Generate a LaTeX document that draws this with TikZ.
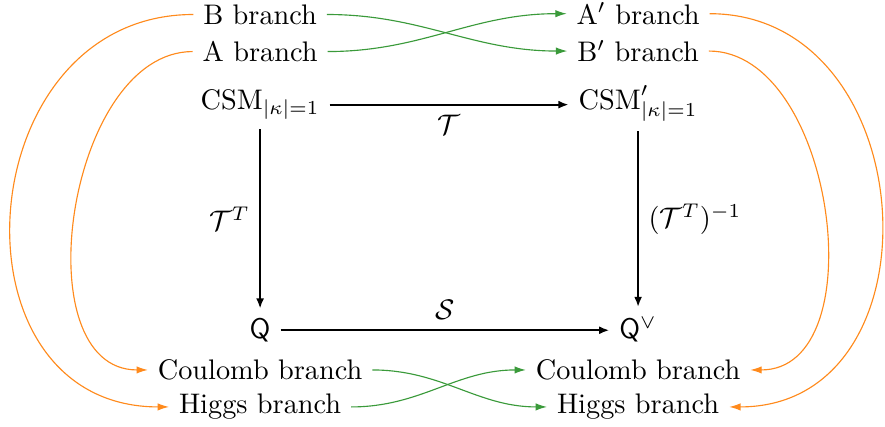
\documentclass[tikz,border=0pt]{standalone}
\usepackage{amsmath}
\usepackage{tikz}
\usetikzlibrary{arrows.meta, positioning}
\definecolor{mapgreen}{HTML}{3A9A3A}
\definecolor{maporange}{HTML}{FF8A1C}

\begin{document}
\begin{tikzpicture}[
    obj/.style={anchor=base},
    map/.style={line width=0.7pt, -{Latex[length=3.6pt,width=2.8pt]}},
    greenmap/.style={mapgreen, -{Latex[length=4pt,width=2.6pt]}},
    orangemap/.style={maporange, -{Latex[length=4pt,width=2.6pt]}}]
    \useasboundingbox (0,0) rectangle (10.99,5.30);

    % levy sloupec
    \node[obj] (bL) at (3.23, 5.0) {B branch};
    \node[obj] (aL) at (3.23, 4.536) {A branch};
    \node[obj] (csmL) at (3.23, 3.943) {$\mathrm{CSM}_{|\kappa|=1}$};
    \node[obj] (qL) at (3.23, 1.099) {$\mathsf{Q}$};
    \node[obj] (coulL) at (3.23, 0.586) {Coulomb branch};
    \node[obj] (higgsL) at (3.23, 0.161) {Higgs branch};

    % pravy sloupec
    \node[obj] (aR) at (7.924, 5.0) {A$'$ branch};
    \node[obj] (bR) at (7.924, 4.536) {B$'$ branch};
    \node[obj] (csmR) at (7.924, 3.943) {$\mathrm{CSM}'_{|\kappa|=1}$};
    \node[obj] (qR) at (7.924, 1.099) {$\mathsf{Q}^\vee$};
    \node[obj] (coulR) at (7.924, 0.586) {Coulomb branch};
    \node[obj] (higgsR) at (7.924, 0.161) {Higgs branch};

    % ctverec
    \draw[map] (csmL.east) -- (csmL.east -| csmR.west) node[midway, below] {$\mathcal{T}$};
    \draw[map] (qL.east) -- (qL.east -| qR.west) node[midway, above] {$\mathcal{S}$};
    \draw[map] (csmL) -- (qL) node[midway, left] {$\mathcal{T}^T$};
    \draw[map] (csmR) -- (qR) node[midway, right] {$(\mathcal{T}^T)^{-1}$};

    % vetve
    \draw[greenmap] (bL.east) to[out=0, in=180] (bR.west);
    \draw[greenmap] (aL.east) to[out=0, in=180] (aR.west);
    \draw[greenmap] (coulL.east) to[out=0, in=180] (higgsR.west);
    \draw[greenmap] (higgsL.east) to[out=0, in=180] (coulR.west);

    \draw[orangemap] (bL.west) to[out=180, in=180, looseness=1.47] (higgsL.west);
    \draw[orangemap] (aL.west) to[out=180, in=180] (coulL.west);
    \draw[orangemap] (aR.east) to[out=0, in=0, looseness=1.4] (higgsR.east);
    \draw[orangemap] (bR.east) to[out=0, in=0] (coulR.east);
\end{tikzpicture}
\end{document}
